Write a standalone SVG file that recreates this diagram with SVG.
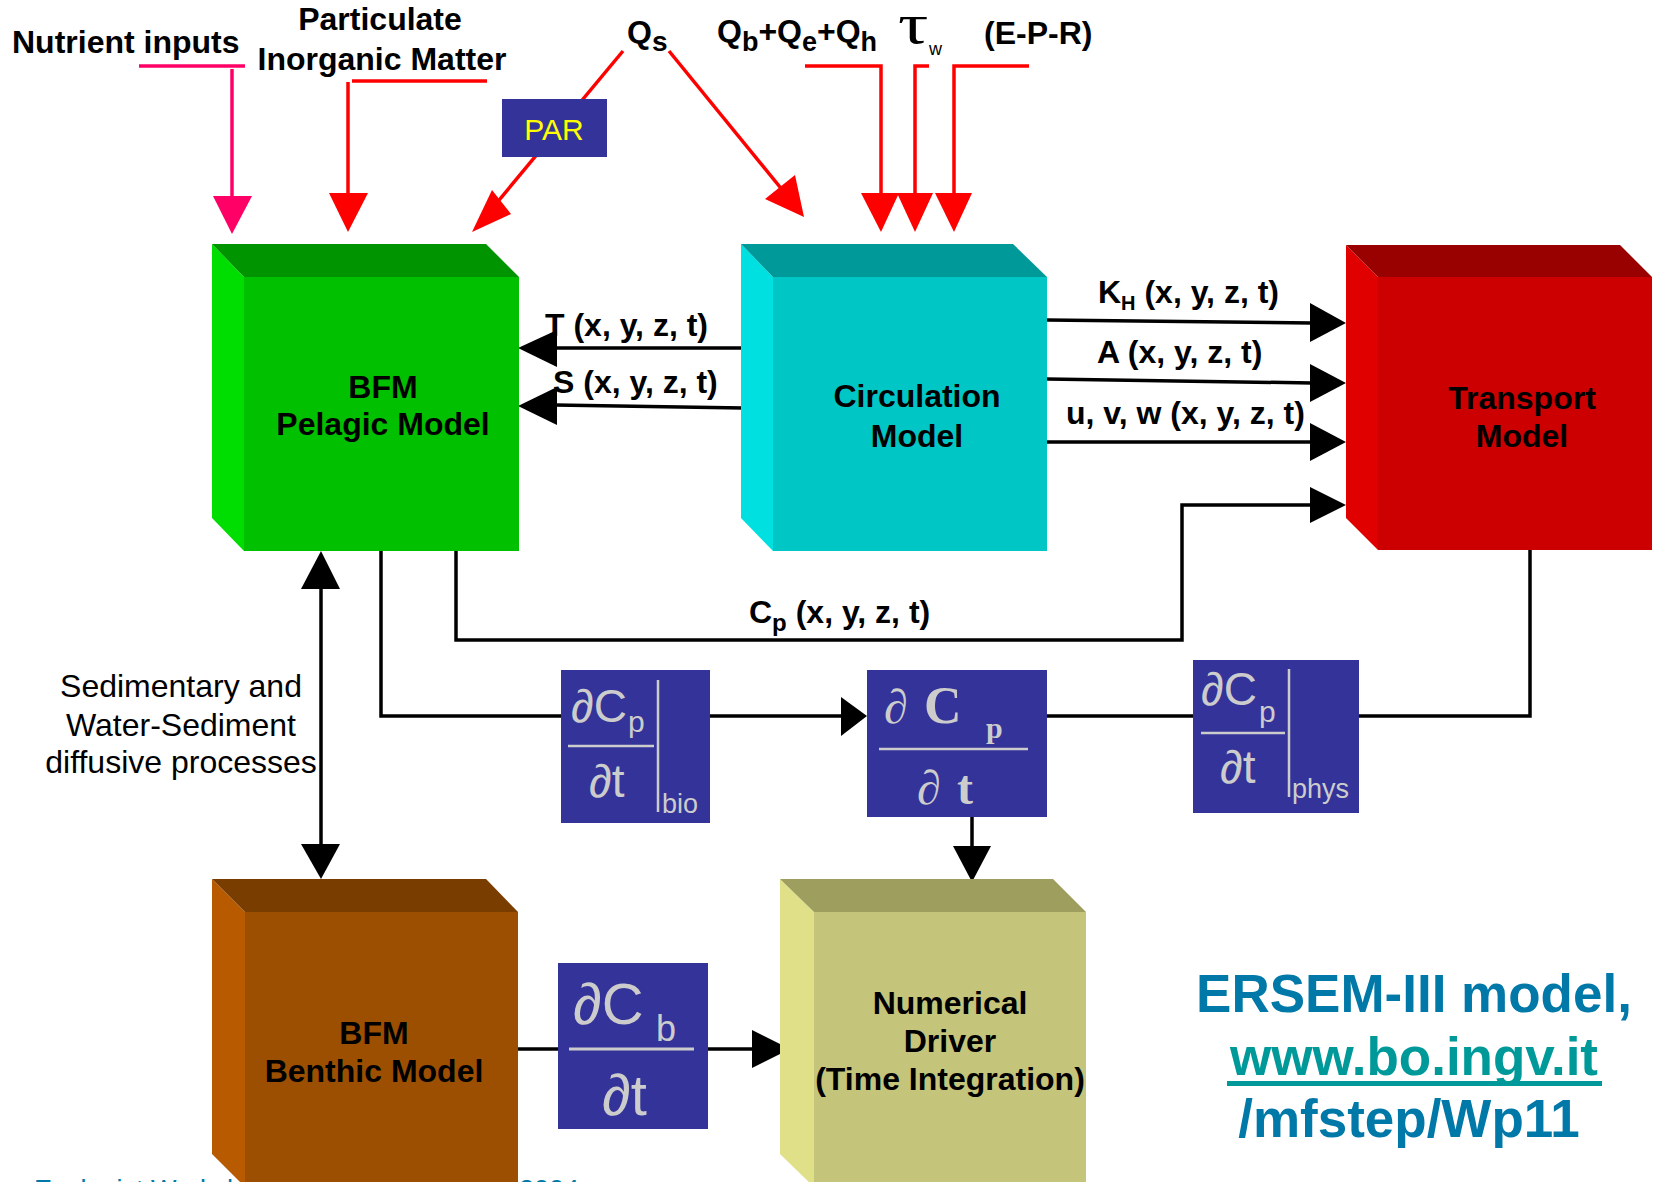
<svg xmlns="http://www.w3.org/2000/svg" width="1655" height="1182" viewBox="0 0 1655 1182">
<style>
.b{font-family:"Liberation Sans",Arial,sans-serif;font-weight:bold;font-size:32px;fill:#000}
.n{font-family:"Liberation Sans",Arial,sans-serif;font-size:32px;fill:#000}
.ln{fill:none;stroke:#000;stroke-width:3.5}
.rd{fill:none;stroke:#FF0000;stroke-width:3.5}
.pk{fill:none;stroke:#FF0066;stroke-width:3.5}
.ah{fill:#000}
.ahr{fill:#FF0000}
.ahp{fill:#FF0066}
.fb{fill:#333399}
.ft{font-family:"Liberation Sans",Arial,sans-serif;fill:#CCCCCC}
.fs{font-family:"Liberation Serif","Times New Roman",serif;fill:#CCCCCC;font-weight:bold}
.fl{stroke:#CCCCCC;stroke-width:2.5;fill:none}
.c{text-anchor:middle}
</style>
<rect width="1655" height="1182" fill="#FFFFFF"/>

<text class="n" x="34" y="1199" style="font-size:27px;fill:#0078A8">Ecologist Workshop, Trieste,</text>
<text class="n" x="519" y="1199" style="font-size:27px;fill:#0078A8">2004</text>

<g id="connectors">
  <line class="pk" x1="139" y1="66" x2="245" y2="66"/>
  <line class="pk" x1="232" y1="69" x2="232" y2="198"/>
  <polygon class="ahp" points="213,196 252,196 232,234"/>
  <line class="rd" x1="352" y1="81" x2="487" y2="81"/>
  <line class="rd" x1="348" y1="82" x2="348" y2="195"/>
  <polygon class="ahr" points="329,193 368,193 348,232"/>
  <line class="rd" x1="623" y1="51" x2="495" y2="205"/>
  <polygon class="ahr" points="492,190 511,214 472,232"/>
  <line class="rd" x1="669" y1="51" x2="784" y2="192"/>
  <polygon class="ahr" points="765,199 795,175 804,217"/>
  <polyline class="rd" points="805,66 881,66 881,195"/>
  <polygon class="ahr" points="861,193 899,193 881,232"/>
  <polyline class="rd" points="929,66 915,66 915,195"/>
  <polygon class="ahr" points="897,193 933,193 915,232"/>
  <polyline class="rd" points="1029,66 954,66 954,195"/>
  <polygon class="ahr" points="935,193 972,193 954,232"/>

  <line class="ln" x1="743" y1="348" x2="555" y2="348"/>
  <polygon class="ah" points="518,348 557,330 557,367"/>
  <line class="ln" x1="743" y1="408" x2="555" y2="405"/>
  <polygon class="ah" points="518,406 557,387 557,425"/>

  <line class="ln" x1="1047" y1="320" x2="1312" y2="323"/>
  <polygon class="ah" points="1346,323 1310,303 1310,342"/>
  <line class="ln" x1="1047" y1="379" x2="1312" y2="383"/>
  <polygon class="ah" points="1346,383 1310,364 1310,402"/>
  <line class="ln" x1="1047" y1="442" x2="1312" y2="442"/>
  <polygon class="ah" points="1346,442 1310,423 1310,461"/>

  <polyline class="ln" points="456,551 456,640 1182,640 1182,505 1312,505"/>
  <polygon class="ah" points="1346,505 1310,487 1310,523"/>

  <polyline class="ln" points="381,551 381,716 562,716"/>
  <line class="ln" x1="709" y1="716" x2="843" y2="716"/>
  <polygon class="ah" points="867,716 841,697 841,736"/>
  <line class="ln" x1="1046" y1="716" x2="1194" y2="716"/>
  <polyline class="ln" points="1358,716 1530,716 1530,550"/>
  <line class="ln" x1="972" y1="816" x2="972" y2="848"/>
  <polygon class="ah" points="972,882 953,846 991,846"/>

  <line class="ln" x1="321" y1="587" x2="321" y2="846"/>
  <polygon class="ah" points="321,551 301,589 340,589"/>
  <polygon class="ah" points="321,879 301,844 340,844"/>

  <line class="ln" x1="518" y1="1049" x2="559" y2="1049"/>
  <line class="ln" x1="707" y1="1049" x2="754" y2="1049"/>
  <polygon class="ah" points="790,1049 752,1030 752,1068"/>
</g>

<text class="b" x="12" y="53">Nutrient inputs</text>
<text class="b c" x="380" y="30">Particulate</text>
<text class="b c" x="382" y="70">Inorganic Matter</text>
<text class="b" x="627" y="43">Q<tspan dy="8" style="font-size:28px">s</tspan></text>
<text class="b" x="717" y="42">Q<tspan dy="9" style="font-size:27px">b</tspan><tspan dy="-9">+Q</tspan><tspan dy="9" style="font-size:27px">e</tspan><tspan dy="-9">+Q</tspan><tspan dy="9" style="font-size:27px">h</tspan></text>
<text x="0" y="0" transform="translate(898,43) scale(1.35,1)" style="font-family:'Liberation Serif','Times New Roman',serif;font-size:56px;fill:#000">τ</text>
<text class="n" x="929" y="55" style="font-size:18px">w</text>
<text class="b" x="984" y="44">(E-P-R)</text>

<g id="par">
  <rect x="502" y="99" width="105" height="58" fill="#333399"/>
  <text class="n" x="554" y="140" text-anchor="middle" style="fill:#FFFF00;font-size:30px">PAR</text>
</g>

<text class="b" x="545" y="336">T (x, y, z, t)</text>
<text class="b" x="553" y="393">S (x, y, z, t)</text>
<text class="b" x="1098" y="303">K<tspan dy="7" style="font-size:20px">H</tspan><tspan dy="-7"> (x, y, z, t)</tspan></text>
<text class="b" x="1097" y="363">A (x, y, z, t)</text>
<text class="b" x="1066" y="424">u, v, w (x, y, z, t)</text>
<text class="b" x="749" y="623">C<tspan dy="8" style="font-size:24px">p</tspan><tspan dy="-8"> (x, y, z, t)</tspan></text>
<text class="n c" x="181" y="697">Sedimentary and</text>
<text class="n c" x="181" y="736">Water-Sediment</text>
<text class="n c" x="181" y="773">diffusive processes</text>

<g id="pelagic">
  <polygon points="212,244 244,277 244,551 212,518" fill="#00DD00"/>
  <polygon points="212,244 486,244 519,277 244,277" fill="#009400"/>
  <rect x="244" y="277" width="275" height="274" fill="#00C000"/>
  <text class="b c" x="383" y="398">BFM</text>
  <text class="b c" x="383" y="435">Pelagic Model</text>
</g>

<g id="circulation">
  <polygon points="741,244 773,277 773,551 741,518" fill="#00E0E0"/>
  <polygon points="741,244 1013,244 1047,277 773,277" fill="#009999"/>
  <rect x="773" y="277" width="274" height="274" fill="#00C6C6"/>
  <text class="b c" x="917" y="407">Circulation</text>
  <text class="b c" x="917" y="447">Model</text>
</g>

<g id="transport">
  <polygon points="1346,245 1378,277 1378,550 1346,518" fill="#E00000"/>
  <polygon points="1346,245 1620,245 1652,277 1378,277" fill="#990000"/>
  <rect x="1378" y="277" width="274" height="273" fill="#CC0000"/>
  <text class="b c" x="1522" y="409">Transport</text>
  <text class="b c" x="1522" y="447">Model</text>
</g>

<g id="benthic">
  <polygon points="212,879 245,912 245,1187 212,1154" fill="#B85A00"/>
  <polygon points="212,879 486,879 518,912 245,912" fill="#7A3D00"/>
  <rect x="245" y="912" width="273" height="275" fill="#9C4F00"/>
  <text class="b c" x="374" y="1044">BFM</text>
  <text class="b c" x="374" y="1082">Benthic Model</text>
</g>

<g id="driver">
  <polygon points="780,879 814,912 814,1187 780,1154" fill="#E0E088"/>
  <polygon points="780,879 1053,879 1086,912 814,912" fill="#9E9E5E"/>
  <rect x="814" y="912" width="272" height="275" fill="#C4C47A"/>
  <text class="b c" x="950" y="1014">Numerical</text>
  <text class="b c" x="950" y="1052">Driver</text>
  <text class="b c" x="950" y="1090">(Time Integration)</text>
</g>

<g id="dcp-bio">
  <rect class="fb" x="561" y="670" width="149" height="153"/>
  <text class="ft" x="571" y="722" style="font-size:46px">∂C</text>
  <text class="ft" x="628" y="732" style="font-size:30px">p</text>
  <line class="fl" x1="568" y1="746" x2="654" y2="746"/>
  <text class="ft" x="589" y="797" style="font-size:46px">∂t</text>
  <line class="fl" x1="658" y1="680" x2="658" y2="812"/>
  <text class="ft" x="662" y="813" style="font-size:27px">bio</text>
</g>

<g id="dcp-total">
  <rect class="fb" x="867" y="670" width="180" height="147"/>
  <text class="fs" x="884" y="723" style="font-size:48px;font-weight:normal">∂</text>
  <text class="fs" x="924" y="723" style="font-size:52px">C</text>
  <text class="fs" x="986" y="738" style="font-size:30px">p</text>
  <line class="fl" x1="879" y1="749" x2="1028" y2="749"/>
  <text class="fs" x="917" y="804" style="font-size:48px;font-weight:normal">∂</text>
  <text class="fs" x="957" y="804" style="font-size:48px">t</text>
</g>

<g id="dcp-phys">
  <rect class="fb" x="1193" y="660" width="166" height="153"/>
  <text class="ft" x="1201" y="705" style="font-size:46px">∂C</text>
  <text class="ft" x="1259" y="722" style="font-size:30px">p</text>
  <line class="fl" x1="1201" y1="733" x2="1285" y2="733"/>
  <text class="ft" x="1220" y="783" style="font-size:46px">∂t</text>
  <line class="fl" x1="1289" y1="669" x2="1289" y2="797"/>
  <text class="ft" x="1292" y="798" style="font-size:27px">phys</text>
</g>

<g id="dcb">
  <rect class="fb" x="558" y="963" width="150" height="166"/>
  <text class="ft" x="573" y="1024" style="font-size:58px">∂C</text>
  <text class="ft" x="656" y="1041" style="font-size:36px">b</text>
  <line class="fl" x1="569" y1="1049" x2="694" y2="1049" style="stroke-width:3"/>
  <text class="ft" x="602" y="1115" style="font-size:58px">∂t</text>
</g>

<g id="ersem">
  <text class="b c" x="1414" y="1012" style="font-size:53px;fill:#0078A8">ERSEM-III model,</text>
  <text class="b c" x="1414" y="1075" style="font-size:53px;fill:#009999">www.bo.ingv.it</text>
  <rect x="1227" y="1081" width="375" height="5" fill="#009999"/>
  <text class="b c" x="1409" y="1137" style="font-size:53px;fill:#0078A8">/mfstep/Wp11</text>
</g>
</svg>
